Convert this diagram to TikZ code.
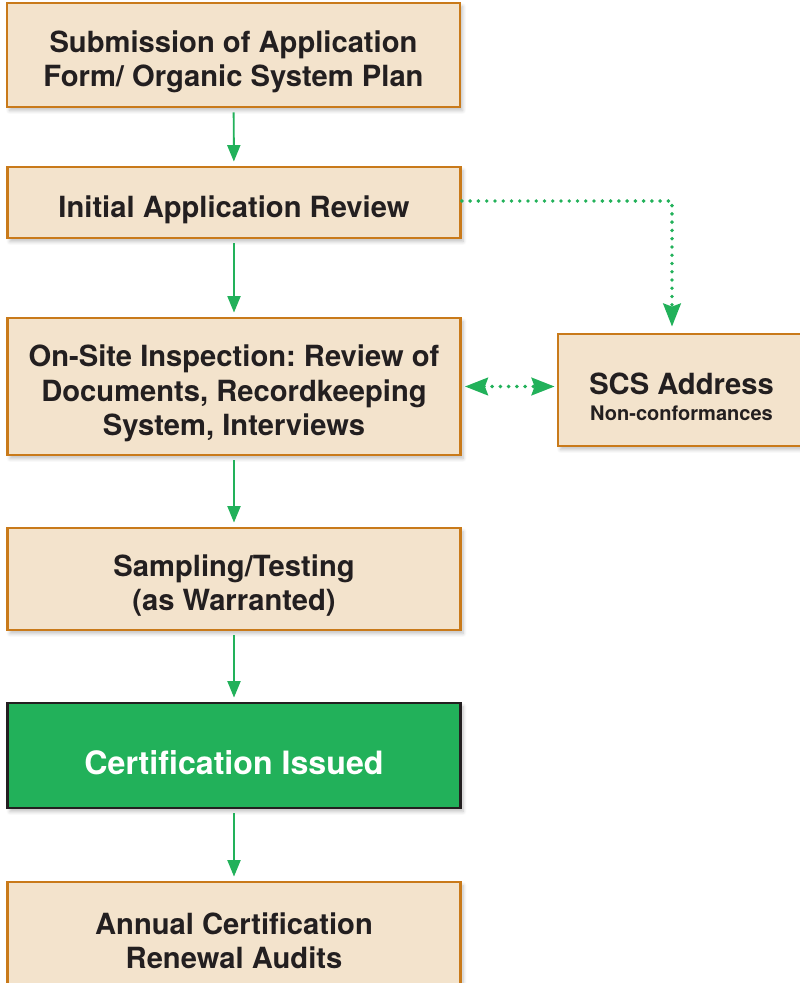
\documentclass[tikz,border=0pt]{standalone}
\usepackage{fontspec}
\setmainfont{TeX Gyre Heros}
\usepackage{tikz}
\usetikzlibrary{arrows.meta}
\usetikzlibrary{shadows.blur}
\definecolor{boxfill}{HTML}{F3E3CC}
\definecolor{boxline}{HTML}{C97A1A}
\definecolor{leafgreen}{HTML}{22B15A}
\definecolor{inkdark}{HTML}{231F20}
\frenchspacing
\newbox\stepbuf
\newcommand{\padtop}[1]{\egroup\ht\stepbuf=\dimexpr\ht\stepbuf+#1\relax\box\stepbuf}
\tikzset{
  stepbox/.style={draw=boxline, line width=1.6pt, fill=boxfill, text=inkdark,
    minimum width=9.06cm, inner sep=0pt, align=center,
    font=\fontsize{16.6}{19.5}\selectfont\bfseries,
    execute at begin node={\setbox\stepbuf=\hbox\bgroup},
    execute at end node={\padtop{7.8pt}},
    blur shadow={shadow xshift=0.5mm, shadow yshift=-0.7mm, shadow blur steps=6, shadow opacity=25}},
  donebox/.style={stepbox, draw=inkdark, fill=leafgreen, text=white,
    font=\fontsize{18.3}{21}\selectfont\bfseries},
  flow/.style={draw=leafgreen, line width=1.1pt, -{Triangle[length=3.3mm,width=2.6mm]},
    shorten <=0.08cm, shorten >=0.08cm},
  dotlink/.style={draw=leafgreen, line width=2.2pt, line cap=round, dash pattern=on 0pt off 4.7pt},
  dottip/.tip={Stealth[length=4.6mm,width=3.5mm,inset=0.6mm]}
}

\begin{document}
\begin{tikzpicture}
    \path[use as bounding box] (0, 0) rectangle (15.98, -19.66);

    \node[stepbox, minimum height=2.08cm] at (4.67, -1.10) (submit) {Submission of Application\\Form/ Organic System Plan};
    \node[stepbox, minimum height=1.42cm] at (4.68, -4.05) (initial) {Initial Application Review};
    \node[stepbox, minimum height=2.74cm] at (4.68, -7.73) (onsite) {On-Site Inspection: Review of\\Documents, Recordkeeping\\System, Interviews};
    \node[stepbox, minimum width=4.94cm, minimum height=2.24cm] at (13.63, -7.80) (scs)
        {SCS Address\\[-5pt]{\fontsize{11.4}{13}\selectfont Non-conformances}};
    \node[stepbox, minimum height=2.04cm] at (4.68, -11.58) (sampling) {Sampling/Testing\\(as Warranted)};
    \node[donebox, minimum height=2.10cm] at (4.68, -15.11) (issued) {Certification Issued};
    \node[stepbox, minimum height=2.08cm] at (4.68, -18.68) (annual) {Annual Certification\\Renewal Audits};

    \draw[flow] (submit) -- (initial);
    \draw[flow] (initial) -- (onsite);
    \draw[flow] (onsite) -- (sampling);
    \draw[flow] (sampling) -- (issued);
    \draw[flow] (issued) -- (annual);

    % dotted links to SCS
    \coordinate (bend) at (13.44, -4.02);
    \draw[dotlink, -dottip, shorten >=0.12cm] (initial.east |- bend) -- (bend) -- (bend |- scs.north);
    \draw[dotlink, dottip-dottip, shorten <=0.06cm, shorten >=0.04cm] (onsite.east) -- (onsite.east -| scs.west);
\end{tikzpicture}
\end{document}
